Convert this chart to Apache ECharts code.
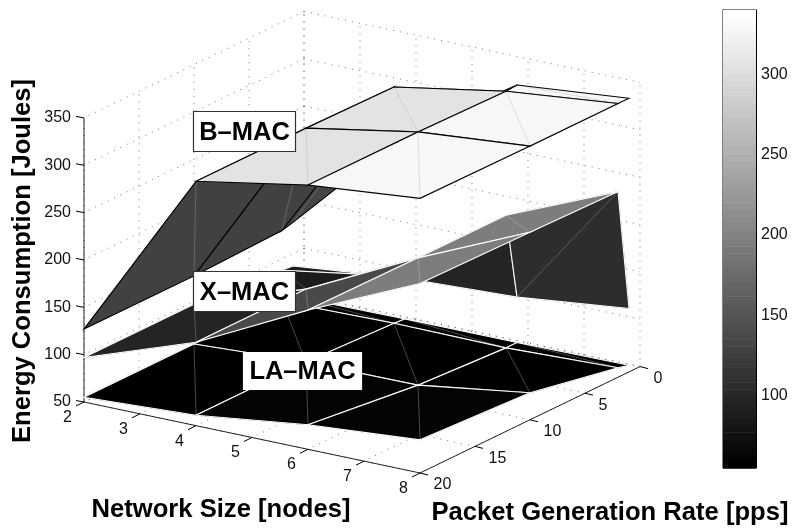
<!DOCTYPE html>
<html><head><meta charset="utf-8">
<style>html,body{margin:0;padding:0;background:#fff}#c{width:795px;height:531px}</style>
<script src="https://cdn.jsdelivr.net/npm/echarts@6/dist/echarts.min.js"></script>
</head><body><div id="c"></div>
<script>
// ---- data ----
const networkSizes = [2, 4, 6, 8];
const packetRates = [1, 2, 10, 20];
// rows follow packetRates, columns follow networkSizes
const bMac = [
  [133, 251, 328, 339],
  [130, 306.5, 327, 339],
  [127, 308, 329, 339],
  [127, 308, 329, 340]
];
const xMac = [
  [87, 99, 104, 117],
  [88, 107, 196, 246],
  [97, 138, 196, 248],
  [97, 138, 197, 250]
];
const laMac = [
  [55, 56, 56, 57],
  [55, 57, 56, 60],
  [55, 61, 61.6, 78.5],
  [55, 61, 76, 85]
];
const xTicks = [2, 3, 4, 5, 6, 7, 8];
const rateTicks = [0, 5, 10, 15, 20];
const energyTicks = [50, 100, 150, 200, 250, 300, 350];
const colorbarTicks = [100, 150, 200, 250, 300];
const colorMin = 55, colorMax = 340, colorLevels = 64;

// ---- oblique projection of the 3-D box on to the page ----
function project(x, r, z) {
  return [
    84 + (x - 2) * 56 + (20 - r) * 11,
    402 + (x - 2) * 11.83 - (20 - r) * 5.32 - (z - 50) * 0.947
  ];
}
function gray(z) {
  let t = (z - colorMin) / (colorMax - colorMin);
  t = Math.max(0, Math.min(1, t));
  const lv = Math.min(colorLevels - 1, Math.floor(t * colorLevels));
  const g = Math.round(lv / (colorLevels - 1) * 255);
  return 'rgb(' + g + ',' + g + ',' + g + ')';
}

// back-to-front list of faces of a surface; the face colour comes from its first corner
function faces(table) {
  const out = [];
  for (let j = 0; j < packetRates.length - 1; j++)
    for (let i = 0; i < networkSizes.length - 1; i++)
      out.push([i, j]);
  return out;
}
function surfaceSeries(name, table, edge, seam, z) {
  return {
    type: 'custom', name, xAxisIndex: 0, yAxisIndex: 0, z, silent: true, clip: false,
    data: faces(table),
    renderItem(params, api) {
      const i = api.value(0), j = api.value(1);
      const corner = (a, b) => api.coord(project(networkSizes[a], packetRates[b], table[b][a]));
      const p = [corner(i, j), corner(i + 1, j), corner(i + 1, j + 1), corner(i, j + 1)];
      const fill = gray(table[j][i]);
      return {
        type: 'group',
        children: [
          { type: 'polygon', shape: { points: p }, style: { fill, stroke: fill, lineWidth: 0.5 } },
          { type: 'line', shape: { x1: p[0][0], y1: p[0][1], x2: p[2][0], y2: p[2][1] },
            style: { stroke: seam, lineWidth: 1 } },
          { type: 'polygon', shape: { points: p }, style: { fill: 'none', stroke: edge, lineWidth: 1.1 } }
        ]
      };
    }
  };
}

// box grid, axes and tick marks as 3-D segments
const dotted = [];
xTicks.forEach(x => {
  dotted.push([x, 0, 50, x, 20, 50]);
  dotted.push([x, 0, 50, x, 0, 350]);
});
rateTicks.forEach(r => {
  dotted.push([2, r, 50, 8, r, 50]);
  dotted.push([2, r, 50, 2, r, 350]);
});
energyTicks.forEach(z => {
  dotted.push([2, 0, z, 2, 20, z]);
  dotted.push([2, 0, z, 8, 0, z]);
});
const axisSegs = [[2, 20, 50, 8, 20, 50], [8, 20, 50, 8, 0, 50], [2, 20, 50, 2, 20, 350]];
const tickFont = '16px "Liberation Sans", Arial, sans-serif';

function segSeries(data, style, z) {
  return {
    type: 'custom', xAxisIndex: 0, yAxisIndex: 0, z, silent: true, clip: false, data,
    renderItem(params, api) {
      const a = api.coord(project(api.value(0), api.value(1), api.value(2)));
      const b = api.coord(project(api.value(3), api.value(4), api.value(5)));
      return { type: 'line', shape: { x1: a[0], y1: a[1], x2: b[0], y2: b[1] }, style };
    }
  };
}
function tickSeries(values, point, dir, off, align) {
  return {
    type: 'custom', xAxisIndex: 0, yAxisIndex: 0, z: 3, silent: true, clip: false,
    data: values,
    renderItem(params, api) {
      const v = api.value(0);
      const a = api.coord(point(v));
      return {
        type: 'group',
        children: [
          { type: 'line', shape: { x1: a[0], y1: a[1], x2: a[0] + dir[0], y2: a[1] + dir[1] },
            style: { stroke: '#000', lineWidth: 1 } },
          { type: 'text', style: { text: String(v), x: a[0] + off[0], y: a[1] + off[1],
            font: tickFont, fill: '#111', textAlign: align, textVerticalAlign: 'middle' } }
        ]
      };
    }
  };
}
const colorBands = [];
for (let k = 0; k < colorLevels; k++) colorBands.push(k);

function boxedLabel(text, x, y, w, h, stroke) {
  return {
    type: 'group', z: 100, children: [
      { type: 'rect', z: 100, shape: { x, y, width: w, height: h },
        style: { fill: '#fff', stroke, lineWidth: 1.2 } },
      { type: 'text', z: 101, style: { text, x: x + w / 2, y: y + h / 2 + 1,
        font: 'bold 25.5px "Liberation Sans", Arial, sans-serif', fill: '#000',
        textAlign: 'center', textVerticalAlign: 'middle' } }
    ]
  };
}
const titleFont = 'bold 25.6px "Liberation Sans", Arial, sans-serif';

const option = {
  animation: false,
  backgroundColor: '#fff',
  grid: [
    { left: 0, top: 0, width: 795, height: 531, show: false },
    { left: 723, top: 10, width: 33, height: 458, show: true, borderColor: '#000', borderWidth: 1, backgroundColor: 'transparent' }
  ],
  xAxis: [
    { type: 'value', gridIndex: 0, min: 0, max: 795, show: false },
    { type: 'value', gridIndex: 1, min: 0, max: 1, show: false }
  ],
  yAxis: [
    { type: 'value', gridIndex: 0, min: 0, max: 531, inverse: true, show: false },
    { type: 'value', gridIndex: 1, min: colorMin, max: colorMax, position: 'right',
      splitLine: { show: false },
      axisLine: { show: true, onZero: false, lineStyle: { color: '#000' } },
      axisTick: { show: true, inside: true, length: 5, customValues: colorbarTicks, lineStyle: { color: '#000' } },
      axisLabel: { show: true, inside: false, margin: 5, customValues: colorbarTicks, color: '#111', fontSize: 16,
        fontFamily: '"Liberation Sans", Arial, sans-serif', hideOverlap: false } },
    { type: 'value', gridIndex: 1, min: colorMin, max: colorMax, position: 'left',
      splitLine: { show: false },
      axisLine: { show: true, onZero: false, lineStyle: { color: '#000' } },
      axisTick: { show: true, inside: true, length: 5, customValues: colorbarTicks, lineStyle: { color: '#000' } },
      axisLabel: { show: false } }
  ],
  series: [
    segSeries(dotted, { stroke: '#555', lineWidth: 1, lineDash: [1, 6], opacity: 0.8 }, 1),
    segSeries(axisSegs, { stroke: '#222', lineWidth: 1 }, 2),
    tickSeries(xTicks, v => project(v, 20, 50), [-8, 4], [-16.5, 15.5], 'center'),
    tickSeries(rateTicks, v => project(8, v, 50), [8, 2], [13.5, 12], 'left'),
    tickSeries(energyTicks, v => project(2, 20, v), [-8, -1.5], [-13, 0], 'right'),
    surfaceSeries('LA-MAC', laMac, '#fff', 'rgba(255,255,255,0.28)', 5),
    surfaceSeries('X-MAC', xMac, '#fff', 'rgba(255,255,255,0.22)', 6),
    surfaceSeries('B-MAC', bMac, '#000', 'rgba(170,170,170,0.35)', 7),
    {
      type: 'custom', name: 'colorbar', xAxisIndex: 1, yAxisIndex: 1, z: 2, silent: true, data: colorBands,
      renderItem(params, api) {
        const k = api.value(0);
        const span = (colorMax - colorMin) / colorLevels;
        const a = api.coord([0, colorMin + k * span]);
        const b = api.coord([1, colorMin + (k + 1) * span]);
        const g = Math.round(k / (colorLevels - 1) * 255);
        const c = 'rgb(' + g + ',' + g + ',' + g + ')';
        return { type: 'rect', shape: { x: a[0], y: b[1], width: b[0] - a[0], height: a[1] - b[1] + 0.5 },
          style: { fill: c } };
      }
    }
  ],
  graphic: { elements: [
    boxedLabel('B\u2013MAC', 193.5, 111.5, 102, 40, '#333'),
    boxedLabel('X\u2013MAC', 193.5, 271.5, 102, 40, '#333'),
    boxedLabel('LA\u2013MAC', 243.5, 352.5, 118, 37, '#fff'),
    { type: 'text', z: 100, x: 23, y: 261, rotation: Math.PI / 2,
      style: { text: 'Energy Consumption [Joules]', font: titleFont, fill: '#000', textAlign: 'center', textVerticalAlign: 'middle' } },
    { type: 'text', z: 100, x: 221, y: 510,
      style: { text: 'Network Size [nodes]', font: titleFont, fill: '#000', textAlign: 'center', textVerticalAlign: 'middle' } },
    { type: 'text', z: 100, x: 610, y: 513,
      style: { text: 'Packet Generation Rate [pps]', font: titleFont, fill: '#000', textAlign: 'center', textVerticalAlign: 'middle' } }
  ] }
};
const chart = echarts.init(document.getElementById('c'), null, { renderer: 'canvas', width: 795, height: 531 });
chart.setOption(option);
</script></body></html>
